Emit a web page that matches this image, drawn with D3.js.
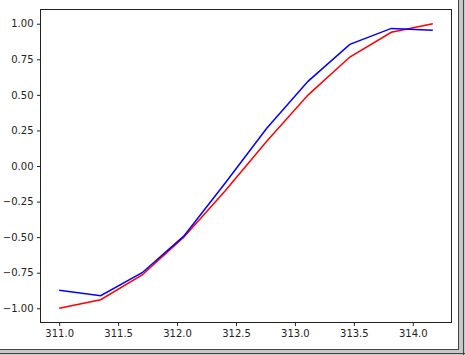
<!doctype html>
<html lang="en">
  <head>
    <meta charset="UTF-8" />
    <title>Line chart</title>
    <script src="https://d3js.org/d3.v7.min.js"></script>
    <style>
      body {
        margin: 0;
        background: #fff;
        font-family: 'DejaVu Sans', sans-serif;
      }
      .tick text {
        font-size: 10px;
        fill: #222;
      }
      .tick line {
        stroke: #222;
      }
      .frame {
        fill: none;
        stroke: #222;
        stroke-width: 1;
      }
    </style>
  </head>
  <body>
    <svg id="chart"></svg>
    <script>
      // data
      const xValues = [311.0, 311.352, 311.704, 312.057, 312.409, 312.761, 313.113, 313.466, 313.818, 314.17]
      const redValues = [-1.0, -0.94, -0.766, -0.5, -0.174, 0.174, 0.5, 0.766, 0.94, 1.0]
      const blueValues = [-0.874, -0.912, -0.75, -0.493, -0.12, 0.265, 0.597, 0.855, 0.967, 0.955]
      const xTicks = [311.0, 311.5, 312.0, 312.5, 313.0, 313.5, 314.0]
      const yTicks = [-1.0, -0.75, -0.5, -0.25, 0.0, 0.25, 0.5, 0.75, 1.0]

      const W = 465
      const H = 355
      const plot = { left: 40.5, top: 9.5, right: 451.5, bottom: 322.5 }

      const svg = d3.select('#chart').attr('width', W).attr('height', H)

      // matplotlib style 5% margins
      const xPad = (d3.max(xValues) - d3.min(xValues)) * 0.05
      const x = d3
        .scaleLinear()
        .domain([d3.min(xValues) - xPad, d3.max(xValues) + xPad])
        .range([plot.left, plot.right])
      const y = d3.scaleLinear().domain([-1.1, 1.1]).range([plot.bottom, plot.top])

      const xAxis = d3
        .axisBottom(x)
        .tickValues(xTicks)
        .tickFormat(d3.format('.1f'))
        .tickSize(3.5)
        .tickPadding(3.5)
        .tickSizeOuter(0)
      const yAxis = d3
        .axisLeft(y)
        .tickValues(yTicks)
        .tickFormat((d) => d3.format('.2f')(d).replace('-', '\u2212'))
        .tickSize(3.5)
        .tickPadding(3.5)
        .tickSizeOuter(0)

      const gx = svg.append('g').attr('transform', `translate(0,${plot.bottom})`).call(xAxis)
      gx.select('.domain').remove()
      gx.selectAll('text').attr('font-family', 'DejaVu Sans')

      const gy = svg.append('g').attr('transform', `translate(${plot.left},0)`).call(yAxis)
      gy.select('.domain').remove()
      gy.selectAll('text').attr('font-family', 'DejaVu Sans')

      const line = d3
        .line()
        .x((d) => x(d[0]))
        .y((d) => y(d[1]))

      svg
        .append('path')
        .datum(xValues.map((v, i) => [v, redValues[i]]))
        .attr('fill', 'none')
        .attr('stroke', '#ff0000')
        .attr('stroke-width', 1.5)
        .attr('d', line)

      svg
        .append('path')
        .datum(xValues.map((v, i) => [v, blueValues[i]]))
        .attr('fill', 'none')
        .attr('stroke', '#0000ff')
        .attr('stroke-width', 1.5)
        .attr('d', line)

      // axes frame
      svg
        .append('rect')
        .attr('class', 'frame')
        .attr('x', plot.left)
        .attr('y', plot.top)
        .attr('width', plot.right - plot.left)
        .attr('height', plot.bottom - plot.top)

      // window border at right and bottom
      svg.append('rect').attr('x', 458).attr('y', 0).attr('width', 7).attr('height', H).attr('fill', '#c8c8c8')
      svg.append('rect').attr('x', 0).attr('y', 349).attr('width', W).attr('height', 6).attr('fill', '#c8c8c8')
      svg.append('line').attr('x1', 458.5).attr('x2', 458.5).attr('y1', 0).attr('y2', 350).attr('stroke', '#444')
      svg.append('line').attr('x1', 463.5).attr('x2', 463.5).attr('y1', 0).attr('y2', H).attr('stroke', '#444')
      svg.append('line').attr('x1', 0).attr('x2', 459).attr('y1', 349.5).attr('y2', 349.5).attr('stroke', '#444')
      svg.append('line').attr('x1', 0).attr('x2', W).attr('y1', 353.5).attr('y2', 353.5).attr('stroke', '#444')
    </script>
  </body>
</html>
